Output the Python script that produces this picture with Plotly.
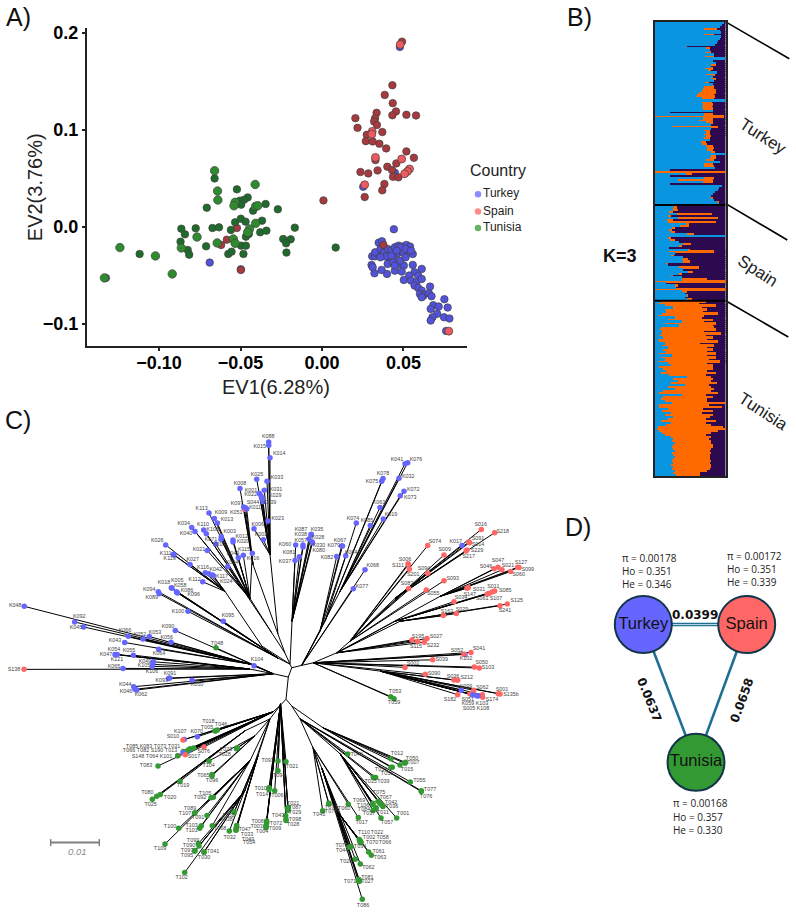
import plotly.graph_objects as go

FONT = "Liberation Sans"

# ---------- A) principal components ----------
turkey_ev1 = [.0447,.0253,.0441,-.0689,-.1326,.0478,.0762,-.0498,.0348,.0368,.0308,.0326,.0348,.0370,.0326,.0359,.0381,.0403,.0425,.0447,.0469,.0491,.0518,.0540,.0557,.0524,.0491,.0458,.0436,.0414,.0392,.0403,.0436,.0469,.0502,.0447,.0399,.0366,.0322,.0304,.0311,.0557,.0612,.0568,.0535,.0502,.0590,.0546,.0579,.0612,.0568,.0590,.0612,.0601,.0623,.0656,.0663,.0672,.0612,.0751,.0683,.0716,.0771,.0667,.0707,.0678,.0667,.0749,.0782,.0480,.0513,.0458,.0425,.0480,.0513,.0546,.0447,.0359,.0489]
turkey_ev2 = [.0557,.0412,-.0027,-.0371,-.0529,.1856,-.1076,-.0440,-.0165,-.0151,-.0306,-.0306,-.0289,-.0254,-.0265,-.0230,-.0265,-.0230,-.0247,-.0213,-.0196,-.0206,-.0189,-.0206,-.0282,-.0247,-.0265,-.0282,-.0316,-.0333,-.0309,-.0385,-.0368,-.0385,-.0402,-.0454,-.0488,-.0447,-.0481,-.0395,-.0419,-.0395,-.0436,-.0471,-.0505,-.0550,-.0505,-.0557,-.0574,-.0540,-.0608,-.0632,-.0660,-.0694,-.0711,-.0687,-.0619,-.0718,-.0729,-.0749,-.0811,-.0825,-.0835,-.0849,-.0900,-.0935,-.0969,-.0935,-.0948,-.0213,-.0230,-.0247,-.0299,-.0351,-.0316,-.0247,-.0402,-.0316,-.0464]

spain_ev1 = [.0491,.0432,.0385,.0434,.0454,.0432,.0518,.0577,.0205,.0218,.0335,.0326,.0320,.0337,.0370,.0275,.0269,.0311,.0352,.0394,.0518,.0564,.0328,.0456,.0401,.0430,.0341,.0236,.0284,.0436,.0469,.0383,.0370,.0262,.0009,-.0498,-.0584,-.0619,-.0522,.0377]
spain_ev2 = [.1910,.1460,.1360,.1275,.1190,.1150,.1155,.1148,.1120,.1020,.1175,.1120,.1086,.1050,.0976,.0948,.0883,.0880,.0856,.0808,.0777,.0711,.0687,.0653,.0619,.0584,.0581,.0564,.0550,.0515,.0509,.0440,.0375,.0306,.0271,-.0447,-.0134,-.0189,-.0014,-.0189]
spain_shared_ev1 = [.0480,.0308,.0306,.0489,.0328,.0537,.0524,.0507,.0262,.0778]
spain_shared_ev2 = [.1880,.0983,.0955,.0698,.0715,.0595,.0570,.0546,.0433,-.1079]

tunisia_ev1 = [-.0522,-.0659,-.0346,-.0271,-.0707,-.0456,-.0478,-.0504,-.0496,-.0423,-.0533,-.0498,-.0469,-.0368,-.0863,-.0841,-.0775,-.0672,-.0632,-.0559,-.0467,-.0379,-.0341,-.0167,-.0238,-.0192,-.0220,-.0218,.0084,-.0868,-.0824,-.0815,-.0711,-.0575,-.0555,-.0482,-.0496,-.0467,-.1119,-.0449]
tunisia_ev2 = [.0385,.0498,.0234,.0179,.0196,.0302,.0278,.0268,.0227,.0165,.0045,.0082,.0052,.0062,-.0021,-.0079,-.0017,-.0014,-.0007,-.0034,-.0103,-.0058,-.0041,-.0010,-.0127,-.0131,-.0172,-.0268,-.0216,-.0155,-.0241,-.0289,-.0203,-.0282,-.0258,-.0282,-.0196,-.0196,-.0282,-.0076]
tunisia_shared_ev1 = [-.0659,-.0641,-.0639,-.0410,-.0533,-.0540,-.0407,-.0394,-.0407,-.0445,-.0456,-.0767,-.0863,-.0643,-.0544,-.0533,-.1240,-.1022,-.0919,-.1335]
tunisia_shared_ev2 = [.0577,.0368,.0275,.0436,.0251,.0216,.0210,.0216,.0034,-.0024,-.0058,-.0107,-.0220,-.0168,-.0127,-.0172,-.0216,-.0302,-.0488,-.0529]

ev1_ticks = [-0.10, -0.05, 0.0, 0.05]
ev1_labels = ["\u22120.10", "\u22120.05", "0.00", "0.05"]
ev2_ticks = [-0.1, 0.0, 0.1, 0.2]
ev2_labels = ["\u22120.1", "0.0", "0.1", "0.2"]

legend_names = ["Turkey", "Spain", "Tunisia"]
legend_rows = [191, 208.5, 225]

# ---------- B) ancestry proportions (percent per individual) ----------
turkey_blue = [98,95,92,70,92,93,69,94,92,90,88,85,44,73,78,71,84,71,100,82,86,79,80,71,75,88,72,82,80,84,71,82,70,68,66,62,60,58,66,100,67,68,66,68,82,21,70,0,68,62,72,80,24,80,70,72,70,73,70,78,65,66,72,74,74,80,100,79,78,72,92,70,70,85,21,0,44,21,70,32,68,21,95,91,90,85,82,80,79,84,88,91]
turkey_orange = [0,0,0,18,0,0,14,0,0,0,0,0,1,5,0,8,0,13,0,0,0,8,0,11,4,0,13,0,6,0,6,0,14,16,20,25,24,27,18,0,14,14,15,14,0,0,12,98,14,20,10,0,66,0,8,6,8,6,8,0,8,8,10,10,8,5,0,8,8,12,0,12,13,0,0,100,8,0,14,50,14,0,0,0,0,0,0,0,3,0,3,0]

spain_blue = [27,26,26,20,31,18,32,17,19,44,36,24,20,22,46,100,18,21,34,40,34,20,47,20,28,22,40,38,40,15,18,34,40,47,34,22,38,38,0,16,28,30,0,38,42,45,42,46]
spain_orange = [4,5,7,5,50,4,58,8,67,4,12,5,4,6,9,0,4,8,0,11,5,0,3,63,0,5,0,9,9,4,0,28,0,7,4,4,0,36,100,0,5,0,100,7,0,2,0,6]

tunisia_blue = [8,4,14,26,14,16,10,4,28,18,38,14,34,8,6,10,8,6,12,4,6,14,10,18,12,16,6,24,8,14,4,18,22,6,12,16,8,20,46,26,32,22,42,18,28,12,6,38,12,8,14,24,6,5,18,10,22,14,26,18,8,22,16,4,2,6,10,14,22,26,24,28,26,24,26,28,24,26,28,26,24,26,22,26,24,28,26,30]
tunisia_orange = [64,58,72,40,60,52,80,66,38,64,32,72,48,76,80,60,86,66,70,70,84,50,74,56,70,58,80,50,78,62,88,56,60,76,70,58,78,52,34,56,48,66,35,62,56,68,84,35,70,66,60,75,70,90,50,72,44,68,52,54,78,50,64,92,98,84,70,58,58,50,56,52,56,58,54,50,56,52,50,52,56,52,58,54,54,46,38,34]

group_names = ["Turkey", "Spain", "Tunisia"]
group_angles = [33, 33, 33]

# ---------- C) neighbour-joining tree ----------
# Internal nodes and the edges that connect them, in drawing units of the tree panel.
node_names = ["top","A","B","C","up1","u2","u3","u4","u5","v","L","l1","l2","R1","R2","R3","R4","R5","R6","LL","LM","LP","LQ","LR","RA","RB","RC",
              "u2a","u2b","u3a","u4a","R1a","R1b","R1c","R4a","R3a","R3b","R3c","LPa","LPb","LPc","LPd","LPe","LRa","RAa","RCa"]
node_x = [290,291.7,288.3,286,285,278,272,262,278,292,273.3,250,250,301.7,313.3,336.7,350,325,380,280,273,270,280.5,291.7,300,313,322,
          253,270,250,225,340,325,320,395,440,395,400,245,255,250,245,258,323,340,338]
node_y = [663,666.7,676,698.3,652,633,632,645,657,620,672.7,663,668,664.3,661.7,651.7,640,662,670,704.7,711,718,703,705,718,747,768,
          563,553,597,590,590,620,630,597,595,620,620,730,735,760,790,755,727,753,812]
edge_from = ["top","A","B","top","up1","up1","top","top","top","B","L","L","A","R1","R2","R3","R2","R2","C","LL","LL","LL","C","LR","RA","RB",
             "u2","u2","u3","u4","R1","R1","R1","R4","R3","R3","R3","LP","LP","LP","LP","LP","LR","RA","RC"]
edge_to   = ["A","B","C","up1","u2","u3","u4","u5","v","L","l1","l2","R1","R2","R3","R4","R5","R6","LL","LM","LP","LQ","LR","RA","RB","RC",
             "u2a","u2b","u3a","u4a","R1a","R1b","R1c","R4a","R3a","R3b","R3c","LPa","LPb","LPc","LPd","LPe","LRa","RAa","RCa"]

u2_tips = ["S044","K088","K015","K014","K033","K025","K031","K001","K022","K029","K039","K023","K006","K002","K008","K097","K011","K051"]
u2_x = [244.5,268.7,268.7,270,267,256.7,264.3,259.3,261,262,263,268,254,263.3,240,243.7,246.7,245.5]
u2_y = [507.5,440,443.3,455.7,479.3,477.3,488.3,491.7,494,496.7,500,519.3,527,538,486.7,505.3,507.3,506]
u2_lx = [253,268.3,259.7,279.3,277,257,276,251,250.7,275.3,270,277.7,257.7,261,240,237,255,236.3]
u2_ly = [501,434.3,445,452,475.7,473,488,488.3,492.7,494,501.3,517,523,533,482,501.7,506.3,510.7]
u2_parent = ["u2a","u2b","u2b","u2b","u2b","u2b","u2b","u2b","u2b","u2b","u2b","u2b","u2b","u2b","u2a","u2a","u2a","u2a"]

u3_tips = ["K113","K009","K013","K034","K040","K110","K105","K003","K012","K020","K071","K010","K115","K016","K049","K021","K004"]
u3_x = [209,214.3,217.3,191.7,195,203.7,206.3,221.3,233,233,221,215.7,243.3,252.3,238.3,207.3,227.7]
u3_y = [511.3,516.7,521.3,525.7,529.7,528.3,532,535,538.3,540.3,537.7,542.3,553.7,551.7,556.3,549,565.3]
u3_lx = [201.7,221,227,183.7,186,203,212.7,229.7,241.7,243,211,219,244,253,233,199,232]
u3_ly = [507,511,518,522,532,523.3,528,529.7,534.7,540,538,543,548.3,557,552,548,560.7]
u3_parent = ["u3a"] * 16 + ["u3"]

u4_tips = ["K026","K111","K119","K027","K116","K042","K117","K024","K112"]
u4_x = [165.7,173.3,174,190,205.3,209,213.3,212.5,202.7]
u4_y = [543.3,552.7,553.5,563,571.3,572.3,574.3,573.5,580.3]
u4_lx = [157.3,165.7,169.7,192.7,203,215.7,222,226.3,194.7]
u4_ly = [538.7,552,557,558.3,566.3,568,575,579.7,577.7]
u4_parent = ["u4a"] * 9

u5_tips = ["K018","K005","K058","K086","K096","K094","K089","K100","K095"]
u5_x = [171.3,172,177,176.5,177.5,158.3,159.3,188,223.3]
u5_y = [586.3,586.8,591,590.3,591.5,590.3,592.3,610,620]
u5_lx = [164,177.3,180.3,187,193.7,149.3,151.7,178,228]
u5_ly = [581.7,579.3,584.3,589,593,588.3,596,610,614.3]
u5_parent = ["u5"] * 9

v_tips = ["K035","K087","K028","K038","K057","K030","K080","K060","K037","K081"]
v_x = [311.3,311,309,303,303,312,312.5,295.7,295,299.3]
v_y = [532.7,533,537.3,543.3,545.3,540,541,543.3,559,555.3]
v_lx = [317,301,318,300.7,300.7,319,318.7,285,285,289]
v_ly = [528,528,536.3,533,539,544,549,543,560,551]
v_parent = ["v"] * 10

r1_tips = ["K041","K076","K078","K075","K032","K072","K073","K063","K074","K085","K019","K067","K079","K082","K084","K068","K077"]
r1_x = [405,407.7,383,381.7,399,404,400.3,380,356.3,370.3,383.3,341.7,342.5,336.7,345.7,365,353.3]
r1_y = [461.7,460.7,476.7,479.3,476.3,489.3,494,505.7,521.3,523.7,517.3,544.3,544.3,555,554.3,568.3,587.3]
r1_lx = [397,416,383,372,408.3,413.3,410.3,379,353,367,391,340,333.7,327,351,372.7,362]
r1_ly = [458,457.3,472,479.3,474.7,487.3,496,500.7,517,519.3,513,538.7,544,555.7,550.7,564.3,585]
r1_parent = ["R1a","R1a","R1b","R1b","R1a","R1a","R1a","R1a","R1b","R1a","R1a","R1c","R1c","R1c","R1c","R1","R1"]

r4_tips = ["S016","S218","K017","S091","S014","S229","S217","S074","S009","S006","S111","S201","S094","S093","S083","S055"]
r4_x = [481.3,494.7,462,469,469.5,467,466,427.7,444,408,408.3,409.3,427.7,444,408.7,426.3]
r4_y = [527.7,531,544,540.3,541,548.3,549.3,544,553.3,562.3,563,567.7,571.7,579.3,587,588.7]
r4_lx = [480.7,502.7,455.7,478,478,477,468.7,435,444.7,405,398,413.3,424,452.7,407,433.3]
r4_ly = [522.7,530.3,540.3,537.3,543,549.3,555,539.7,548.3,558,563.7,573,567,577.3,582.7,592.3]
r4_parent = ["R4a"] * 7 + ["R4"] * 9

r3_tips = ["S047","S046","S021","S127","S099","S060","S031","S147","S011","S085","S061","S107","S034","S125","S241","S029","S163","S195","S027","S115","S232"]
r3_x = [498,494,502,517.7,519,510.7,468.3,467,494.7,492,487.3,489,454,507.3,500,456.3,443.3,412,427,417.7,424.3]
r3_y = [565.7,567.3,568.3,565.7,566,570,586,586.8,589.7,590.7,592.7,592,600.3,602.7,604.3,612.3,614.3,638.7,637.3,640,641]
r3_lx = [498,486,508,521,527.7,518.7,479,469.7,493.3,505.3,482.3,496,461,516.7,505,462,447,418,436,416,433]
r3_ly = [559,565,564.3,561,568,573.3,588.3,593,585.7,589,597.3,597,596.7,599.7,609,608,610.3,635,635.7,645,644.7]
r3_parent = ["R3a"] * 8 + ["R3b"] * 5 + ["R3c"] * 4 + ["R3"] * 4

r2_tips = ["K102","S052","S041","S039","T053","T059","S090"]
r2_x = [465,464,471,432.7,390.7,394,425.3]
r2_y = [653.3,653,651.3,658.7,695.7,697.7,673.3]
r2_lx = [466,457,479,441.7,395,394,434]
r2_ly = [658,649.7,647.7,659,691,702,673]
r2_parent = ["R2"] * 7

r5_tips = ["S002","S050","S103"]
r5_x = [405,474.3,479.3]
r5_y = [666.3,666,667]
r5_lx = [413,481.7,488]
r5_ly = [663,661.7,667]
r5_parent = ["R5"] * 3

r6_tips = ["S036","S212","K099","S062","S182","S051","K059","K103","S005","S174","S001","S135b","K108"]
r6_x = [454,457.7,461.3,473.7,457.7,470,472.7,476.7,482.3,482.7,498.3,500,478]
r6_y = [679,679.3,689.3,689.3,693.7,693,694,694.7,693.7,696.3,692.7,693,695]
r6_lx = [453,466.7,466,482.3,450,467.7,468,482,469,492,502,511,483]
r6_ly = [675.7,677,685.7,686.7,698.3,698.7,703,703,707.7,699,688.3,694,707.7]
r6_parent = ["R6"] * 13

l1_tips = ["K048","K092","K045","K066","K052","K053","K056","K043","K064"]
l1_x = [24.3,74.7,83.7,128.3,143,149.3,171,124.7,158.7]
l1_y = [605,620.7,625.7,635,637.7,635.3,641,641.3,648]
l1_lx = [15.3,79.3,76,125,140,155,166.7,115,159]
l1_ly = [604.7,615.7,626,629,633.7,631,636,639.7,652.3]
l1_parent = ["l1"] * 9

l2_tips = ["K054","K047","K121","K055","S138","K065","K049","K105","K106"]
l2_x = [115,117.3,116,133.3,24,123,153.3,152.7,152.3]
l2_y = [653.3,653.3,653.5,654,668.3,667.3,660.7,663.3,665.3]
l2_lx = [114,106,117,129,14,114,145,144,152]
l2_ly = [648.3,653.7,658.3,649.7,668.3,666,660.7,665,671]
l2_parent = ["l2"] * 9

ll_tips = ["K090","T048","K104","K091","K050","K044","K046","K062","K093"]
ll_x = [175.3,216,254,169.7,192,133.7,135,136.7,168.5]
ll_y = [629.3,646.7,664.7,677,679.3,685.7,688.3,689,677.5]
ll_lx = [168,217,257,170,197,125.3,126,141,161.7]
ll_ly = [625.3,642,658.7,672.3,684,683.7,691,693.7,680]
ll_parent = ["L"] * 9

lm_tips = ["T018","T005","T046","K107","S010","K070","T085","K083","T073","T031","T066","T082","S190","T013","S148","T064","K101","S076","S017","T083"]
lm_x = [215,215.7,217.3,184.3,183,197.3,188.3,189,193.7,190,183.3,186,184.5,187,178,177.7,183,204,185.3,158]
lm_y = [730.3,730,729.3,738.7,739.3,736,749.3,750,747.3,748,750.7,751,752,750.5,755,755,752,746.3,754,765.3]
lm_lx = [208.3,207,221,180.3,173,196.7,132,146,160,174,129,143,157,171,138,152,166,203.7,194,146]
lm_ly = [720.7,726.7,724.3,731.3,736.3,731.3,746,746,746,746,750.3,750.3,750.3,750.3,755.7,755.7,755.7,751,755.7,765.3]
lm_parent = ["LM"] * 20

lp_tips = ["T023","T028","T104","T065","T096","T019","T080","T025","T020","T105","T092","T089","T107","T091","T100","T103","T101","T068","T109","T099","T090","T097","T095","T041","T030","T102","T052","T038","T032","T047","T033","T049","T054"]
lp_x = [237.3,236.5,209,212,212,180,156.7,152.3,160.3,213.3,211,195,194.5,207,178.7,201.3,199.7,212.3,165,198.3,199,195,194.7,204,204,184.7,234.3,234,229.3,236.7,236.3,236,236]
lp_y = [747,748,760.3,774,775.3,780.7,795.7,798.7,794,796.7,797.3,812.3,812.8,815,828,825.3,828,825.3,843.7,843.3,845.7,850.3,851,851.7,852,872.3,811.3,812,830.7,825,827.3,829.3,830]
lp_lx = [226,224.7,208.7,203.3,212,183,147.3,150.7,170,205,200,190,185,198,170,191.7,191.7,220,160,193,189,187,187,213,204,181.7,228.7,226.7,229.7,244.7,247,248,249]
lp_ly = [749.3,754,765,775,780,785,792.3,804,797.3,793,797.3,807.7,813,817,826,825,830.3,828,848.7,840.7,845,850,855,851.7,857,877.7,815.3,819.7,837,829.7,834,839,842.7]
lp_parent = ["LPb"] * 5 + ["LPa"] * 4 + ["LPc"] * 10 + ["LPd"] * 7 + ["LPe"] * 7

lq_tips = ["T093","T021","T094","T010","T014","T006","T021","T087","T029","T043","T098","T028","T008","T072","T003","T009","T004"]
lq_x = [278,286,278,269,269,274.7,288,288,288,285.7,286,286,266.7,266.7,266,266,266]
lq_y = [760.3,761,770,787.3,789.3,790.3,806.7,808,810,815.3,819,820,820.7,822.7,825,826.7,827]
lq_lx = [267.7,292,279,260.7,262,277.3,293,295,295,278,295,293,257.7,276,256.7,275,262]
lq_ly = [760,765.7,774.7,788,793.7,794.7,803,807,812.7,815,819.3,824,821,823,826,828,831]
lq_parent = ["LQ"] * 17

lr_tips = ["T012","T050","T007","T015","T056","T051"]
lr_x = [391,405.3,405,400,392.3,391]
lr_y = [758,761.7,762.7,764.3,766.7,766.7]
lr_lx = [397,412,413.3,407,381,387]
lr_ly = [753.3,757.7,762.3,768.7,769,773]
lr_parent = ["LRa"] * 6

ra_tips = ["T040","T035","T039","T055","T077","T076","T075","T067","T042","T036","T069","T106","T084","T011","T037","T001","T057"]
ra_x = [347.7,373.3,375.7,410.3,421.3,421.3,378,380,382.3,383,372.7,373,376,376,373,396.7,381]
ra_y = [753.3,776.7,777,781.3,790.3,791,800.7,803,805,806,802.7,804,807.3,808,810,817.7,817.7]
ra_lx = [356.7,370.7,383.3,419.3,430,426,379,385.7,391,392,359,363,364,383,369,403,387]
ra_ly = [754.3,781.3,780.7,780.3,788.7,795.7,792.3,797,801.7,806,800,805,809,812.7,813,813.3,822.3]
ra_parent = ["RA"] * 6 + ["RAa"] * 11

rb_tips = ["T079","T078","T045","T060","T017"]
rb_x = [328.7,329,322.7,348.3,358.3]
rb_y = [802.7,803.5,810.3,803.7,817]
rb_lx = [331,331,319,344,361.7]
rb_ly = [807,811,814.7,808,822.7]
rb_parent = ["RB"] * 5

rc_tips = ["T110","T022","T002","T058","T070","T066","T034","T074","T044","T061","T063","T026","T062","T081","T071","T027","T086"]
rc_x = [359.3,360,360,360.5,360.7,361,351,349.3,349.5,368.7,371.3,355.3,360.3,359,358.3,359.5,362.3]
rc_y = [839.3,841,841.5,841,842,842.5,846.3,846.7,847,851.7,855,859,863.7,879.3,880.7,881,899.3]
rc_lx = [364,377,369,382.7,372,385,360,341.7,342,378.7,380,346,368.3,367.3,350,367.3,363]
rc_ly = [832.7,832.7,837,837,842,842.3,846.7,845,850,851.3,857.3,861,867.7,877,881.3,882,905.7]
rc_parent = ["RCa"] * 6 + ["RC"] * 3 + ["RCa"] * 2 + ["RC"] * 6

clades = [
    (u2_parent, u2_tips, u2_x, u2_y, u2_lx, u2_ly), (u3_parent, u3_tips, u3_x, u3_y, u3_lx, u3_ly),
    (u4_parent, u4_tips, u4_x, u4_y, u4_lx, u4_ly), (u5_parent, u5_tips, u5_x, u5_y, u5_lx, u5_ly),
    (v_parent, v_tips, v_x, v_y, v_lx, v_ly), (r1_parent, r1_tips, r1_x, r1_y, r1_lx, r1_ly),
    (r4_parent, r4_tips, r4_x, r4_y, r4_lx, r4_ly), (r3_parent, r3_tips, r3_x, r3_y, r3_lx, r3_ly),
    (r2_parent, r2_tips, r2_x, r2_y, r2_lx, r2_ly), (r5_parent, r5_tips, r5_x, r5_y, r5_lx, r5_ly),
    (r6_parent, r6_tips, r6_x, r6_y, r6_lx, r6_ly), (l1_parent, l1_tips, l1_x, l1_y, l1_lx, l1_ly),
    (l2_parent, l2_tips, l2_x, l2_y, l2_lx, l2_ly), (ll_parent, ll_tips, ll_x, ll_y, ll_lx, ll_ly),
    (lm_parent, lm_tips, lm_x, lm_y, lm_lx, lm_ly), (lp_parent, lp_tips, lp_x, lp_y, lp_lx, lp_ly),
    (lq_parent, lq_tips, lq_x, lq_y, lq_lx, lq_ly), (lr_parent, lr_tips, lr_x, lr_y, lr_lx, lr_ly),
    (ra_parent, ra_tips, ra_x, ra_y, ra_lx, ra_ly), (rb_parent, rb_tips, rb_x, rb_y, rb_lx, rb_ly),
    (rc_parent, rc_tips, rc_x, rc_y, rc_lx, rc_ly),
]

# ---------- D) population network ----------
pop_names = ["Turkey", "Spain", "Tunisia"]
pop_x = [643.3, 746.7, 696]
pop_y = [623.3, 623.3, 761.7]
pop_pi = ["0.00178", "0.00172", "0.00168"]
pop_ho = ["0.351", "0.351", "0.357"]
pop_he = ["0.346", "0.339", "0.330"]
fst_values = ["0.0399", "0.0637", "0.0658"]

PALETTE = {"K": "#6666FF", "S": "#FF6666", "T": "#339933"}
BAR_BLUE, BAR_ORANGE, BAR_PURPLE = "#0995E0", "#FF6A00", "#2D0A50"

fig = go.Figure()

# Panel A points, one layer per country
def pca_layer(xs, ys, fill, size=7.5):
    fig.add_trace(go.Scatter(x=xs, y=ys, mode="markers", showlegend=False, xaxis="x", yaxis="y",
                             marker=dict(size=size, color=fill, line=dict(color="#404040", width=0.7))))

pca_layer(turkey_ev1, turkey_ev2, "#5252DC")
pca_layer(spain_ev1, spain_ev2, "#A63A3E")
pca_layer(spain_shared_ev1, spain_shared_ev2, "#EE5A5E", 8)
pca_layer(tunisia_ev1, tunisia_ev2, "#1F6B2B")
pca_layer(tunisia_shared_ev1, tunisia_shared_ev2, "#2E8B2E", 8.5)

# Panel B ancestry bars: cumulative shares painted back to front, so neighbouring colours never leave a seam
blue = turkey_blue + spain_blue + tunisia_blue
orange = turkey_orange + spain_orange + tunisia_orange
rows = list(range(len(blue)))
blue_plus_orange = [b + o for b, o in zip(blue, orange)]
for values, colour in [([100] * len(rows), BAR_PURPLE), (blue_plus_orange, BAR_ORANGE), (blue, BAR_BLUE)]:
    fig.add_trace(go.Bar(x=values, y=rows, orientation="h", xaxis="x3", yaxis="y3", width=1,
                         marker=dict(color=colour, line=dict(width=0)), showlegend=False))

# Panel C branches
names = dict(zip(node_names, zip(node_x, node_y)))
seg_x, seg_y = [], []
for a, b in zip(edge_from, edge_to):
    seg_x += [names[a][0], names[b][0], None]
    seg_y += [names[a][1], names[b][1], None]
tip_x, tip_y, tip_text, tip_colour, lab_x, lab_y = [], [], [], [], [], []
for parents, labels, xs, ys, lxs, lys in clades:
    for parent, lab, x, y, lx, ly in zip(parents, labels, xs, ys, lxs, lys):
        px, py = names[parent]
        seg_x += [px, x, None]
        seg_y += [py, y, None]
        tip_x.append(x); tip_y.append(y); tip_text.append(lab)
        tip_colour.append(PALETTE[lab[0]]); lab_x.append(lx); lab_y.append(ly)
fig.add_trace(go.Scatter(x=seg_x, y=seg_y, mode="lines", xaxis="x2", yaxis="y2", showlegend=False,
                         line=dict(color="black", width=1)))
fig.add_trace(go.Scatter(x=tip_x, y=tip_y, mode="markers", xaxis="x2", yaxis="y2", showlegend=False,
                         marker=dict(size=5.5, color=tip_colour)))
fig.add_trace(go.Scatter(x=lab_x, y=lab_y, mode="text", xaxis="x2", yaxis="y2", showlegend=False,
                         text=tip_text, textposition="middle center", cliponaxis=False,
                         textfont=dict(family=FONT, size=5.4, color="#444444")))

# Scale bar of the tree
fig.add_trace(go.Scatter(x=[50.7, 99.3], y=[842.3, 842.3], mode="lines+markers", xaxis="x2", yaxis="y2",
                         showlegend=False, line=dict(color="#808080", width=2),
                         marker=dict(symbol="line-ns", size=5, line=dict(color="#808080", width=1.5))))

# Leader lines from the ancestry bars to the group names
for y0, y1, x1 in [(18, 55, 789.3), (200.5, 237, 787.3), (298, 334.5, 788.3)]:
    fig.add_trace(go.Scatter(x=[725.7, x1], y=[y0, y1], mode="lines", xaxis="x2", yaxis="y2", showlegend=False,
                             line=dict(color="black", width=1.6)))

# Panel A legend keys
legend_fill = ["rgba(102,102,255,0.75)", "rgba(255,102,102,0.75)", "rgba(51,153,51,0.75)"]
fig.add_trace(go.Scatter(x=[478] * 3, y=legend_rows, mode="markers+text", xaxis="x2", yaxis="y2", showlegend=False,
                         text=legend_names, textposition="middle right",
                         textfont=dict(family=FONT, size=12, color="#222222"),
                         marker=dict(size=6.5, color=legend_fill)))

# Panel D edges and nodes
edge_pairs = [(0, 1), (0, 2), (1, 2)]
for i, j in edge_pairs:
    fig.add_trace(go.Scatter(x=[pop_x[i], pop_x[j]], y=[pop_y[i], pop_y[j]], mode="lines", xaxis="x2", yaxis="y2",
                             showlegend=False, line=dict(color="#1F6E93", width=2.6 if i or j != 1 else 3.6)))
fig.add_trace(go.Scatter(x=pop_x[:2], y=pop_y[:2], mode="lines", xaxis="x2", yaxis="y2", showlegend=False,
                         line=dict(color="#BFDDE8", width=1)))
fig.add_trace(go.Scatter(x=pop_x, y=pop_y, mode="markers+text", xaxis="x2", yaxis="y2", showlegend=False,
                         text=pop_names, textposition="middle center", cliponaxis=False,
                         textfont=dict(family=FONT, size=16.5, color="#111111"),
                         marker=dict(size=57, color=["#6666FF", "#FF6666", "#339933"],
                                     line=dict(color="#12354A", width=2))))

def label(text, x, y, size, anchor="center", angle=0, colour="#111111", family=FONT):
    fig.add_annotation(text=text, x=x, y=y, xref="x2", yref="y2", showarrow=False, xanchor=anchor, yanchor="middle",
                       textangle=angle, font=dict(size=size, color=colour, family=family))

for text, x, y in [("A)", 18, 13), ("B)", 579, 13), ("C)", 18, 418), ("D)", 578, 525)]:
    label(text, x, y, 25)

label("EV1(6.28%)", 276, 385, 20, colour="#222222")
label("EV2(3.76%)", 35, 184, 20, angle=-90, colour="#222222")
label("Country", 498, 167, 16, colour="#222222")
label("<b>K=3</b>", 620, 253, 18)
for name, x, y, ang in zip(group_names, [763, 757, 763], [133, 268, 409], group_angles):
    label(name, x, y, 17, angle=ang, colour="#222222")
label("<i>0.01</i>", 77, 851, 9.5, colour="#8a8a8a")

stat_left = [620, 725, 671]
stat_top = [556, 554.5, 803]
for k in range(3):
    for n, line in enumerate([f"\u03c0 = {pop_pi[k]}", f"Ho = {pop_ho[k]}", f"He = {pop_he[k]}"]):
        label(line, stat_left[k], stat_top[k] + 13.2 * n, 10, anchor="left", colour="#222222", family="Open Sans")

label(f"<b>{fst_values[0]}</b>", 694.7, 614, 12, family="DejaVu Sans")
label(f"<b>{fst_values[1]}</b>", 649.3, 699, 12, angle=68, family="DejaVu Sans")
label(f"<b>{fst_values[2]}</b>", 742.3, 699.3, 12, angle=-70, family="DejaVu Sans")

# Separators between the three groups of the ancestry plot
for cut in (len(turkey_blue) - 0.5, len(turkey_blue) + len(spain_blue) - 0.5):
    fig.add_shape(type="line", xref="x3", yref="y3", x0=0, x1=100, y0=cut, y1=cut, line=dict(color="black", width=2))

W, H = 796, 913
fig.update_layout(
    width=W, height=H, autosize=False, margin=dict(l=0, r=0, t=0, b=0), showlegend=False,
    paper_bgcolor="white", plot_bgcolor="rgba(0,0,0,0)", barmode="overlay", bargap=0,
    font=dict(family=FONT),
    xaxis=dict(domain=[87 / W, 466.7 / W], range=[-0.1442, 0.0888], anchor="y", showgrid=False, zeroline=False,
               showline=True, linecolor="#222222", linewidth=2, ticks="outside", ticklen=3, tickwidth=1.5,
               tickcolor="#222222", tickvals=ev1_ticks, ticktext=ev1_labels, ticklabelstandoff=-4,
               tickfont=dict(family=FONT, size=18, color="black", weight="bold")),
    yaxis=dict(domain=[1 - 343.7 / H, 1 - 23.7 / H], range=[-0.1234, 0.2055], anchor="x", showgrid=False, zeroline=False,
               showline=True, linecolor="#222222", linewidth=2, ticks="outside", ticklen=3, tickwidth=1.5,
               tickcolor="#222222", tickvals=ev2_ticks, ticktext=ev2_labels,
               tickfont=dict(family=FONT, size=18, color="black", weight="bold")),
    xaxis2=dict(domain=[0, 1], range=[0, W], anchor="y2", visible=False, fixedrange=True),
    yaxis2=dict(domain=[0, 1], range=[H, 0], anchor="x2", visible=False, fixedrange=True),
    xaxis3=dict(domain=[655 / W, 725.5 / W], range=[0, 100], anchor="y3", showticklabels=False, ticks="", showgrid=False,
                zeroline=False, showline=True, mirror=True, linecolor="#222222", linewidth=2),
    yaxis3=dict(domain=[1 - 474 / H, 1 - 18 / H], range=[len(rows) - 0.5, -0.5], anchor="x3", showticklabels=False,
                ticks="", showgrid=False, zeroline=False, showline=True, mirror=True, linecolor="#222222", linewidth=2),
)

fig.write_html("out.html")
